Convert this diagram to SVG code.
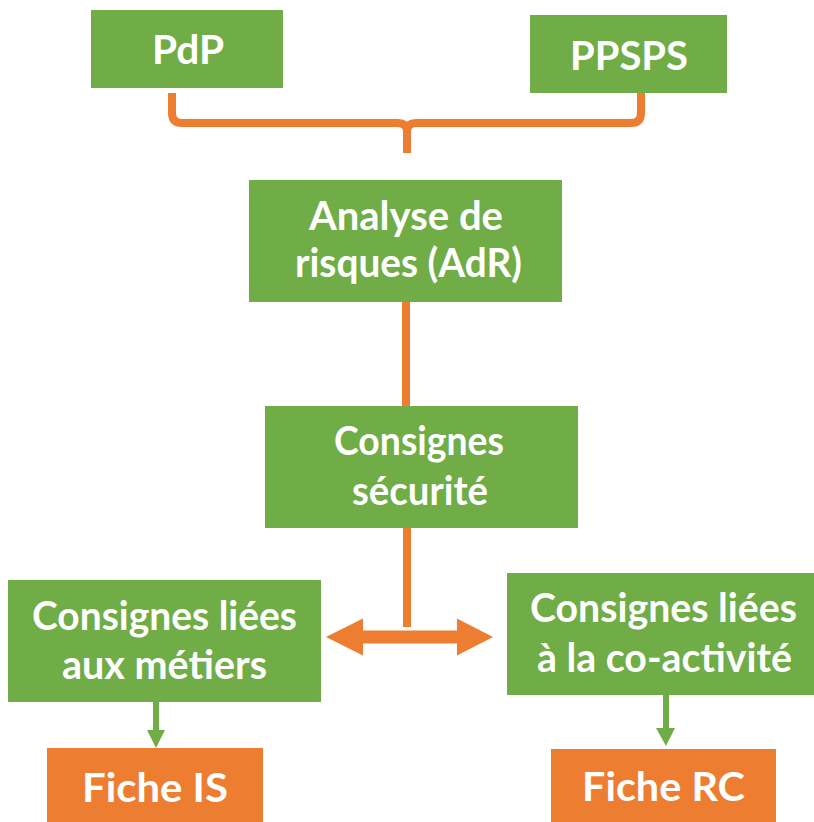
<svg xmlns="http://www.w3.org/2000/svg" width="814" height="822" viewBox="0 0 814 822">
<style>
.g{fill:#70AD47}
.o{fill:#ED7D31}
.t{font-family:Lato,"Open Sans","Liberation Sans",sans-serif;font-weight:bold;font-size:40px;fill:#ffffff;text-anchor:middle}
.oc{fill:none;stroke:#ED7D31;stroke-width:8}
.gc{fill:none;stroke:#70AD47;stroke-width:6}
</style>
<rect width="814" height="822" fill="#ffffff"/>
<g id="connectors">
<path class="oc" d="M172,93 L172,113 Q172,123 182,123 L397,123 Q407,123 407,131 L407,153 M407,131 Q407,123 417,123 L631,123 Q641,123 641,113 L641,93"/>
<line class="oc" x1="406" y1="302" x2="406" y2="406"/>
<line class="oc" x1="407" y1="528" x2="407" y2="627"/>
<polygon class="o" points="326,637 363,618.5 363,630.5 457,630.5 457,618.5 493,637 457,655.5 457,643.5 363,643.5 363,655.5"/>
<line class="gc" x1="156" y1="702" x2="156" y2="731"/>
<polygon class="g" points="147,730 165,730 156,748"/>
<line class="gc" x1="666" y1="695" x2="666" y2="729"/>
<polygon class="g" points="656,728 675,728 666,746"/>
</g>
<g id="pdp">
<rect class="g" x="91" y="10" width="192" height="78"/>
<text class="t" x="188" y="64" textLength="72" lengthAdjust="spacingAndGlyphs">PdP</text>
</g>
<g id="ppsps">
<rect class="g" x="530" y="15" width="197" height="78"/>
<text class="t" x="629" y="70" textLength="118" lengthAdjust="spacingAndGlyphs">PPSPS</text>
</g>
<g id="adr">
<rect class="g" x="249" y="180" width="313" height="122"/>
<text class="t" x="406" y="230" textLength="194" lengthAdjust="spacingAndGlyphs">Analyse de</text>
<text class="t" x="408.5" y="277" textLength="227" lengthAdjust="spacingAndGlyphs">risques (AdR)</text>
</g>
<g id="securite">
<rect class="g" x="265" y="406" width="313" height="122"/>
<text class="t" x="419" y="455" textLength="170" lengthAdjust="spacingAndGlyphs">Consignes</text>
<text class="t" x="420" y="505" textLength="136" lengthAdjust="spacingAndGlyphs">sécurité</text>
</g>
<g id="metiers">
<rect class="g" x="8" y="580" width="313" height="122"/>
<text class="t" x="164.5" y="630" textLength="265" lengthAdjust="spacingAndGlyphs">Consignes liées</text>
<text class="t" x="164.5" y="679" textLength="205" lengthAdjust="spacingAndGlyphs">aux métiers</text>
</g>
<g id="coactivite">
<rect class="g" x="507" y="573" width="307" height="122"/>
<text class="t" x="663.5" y="622" textLength="267" lengthAdjust="spacingAndGlyphs">Consignes liées</text>
<text class="t" x="664.5" y="672" textLength="255" lengthAdjust="spacingAndGlyphs">à la co-activité</text>
</g>
<g id="fiche-is">
<rect class="o" x="47" y="748" width="216" height="74"/>
<text class="t" x="155" y="802" textLength="146" lengthAdjust="spacingAndGlyphs">Fiche IS</text>
</g>
<g id="fiche-rc">
<rect class="o" x="551" y="749" width="225" height="73"/>
<text class="t" x="663.5" y="801" textLength="163" lengthAdjust="spacingAndGlyphs">Fiche RC</text>
</g>
</svg>
